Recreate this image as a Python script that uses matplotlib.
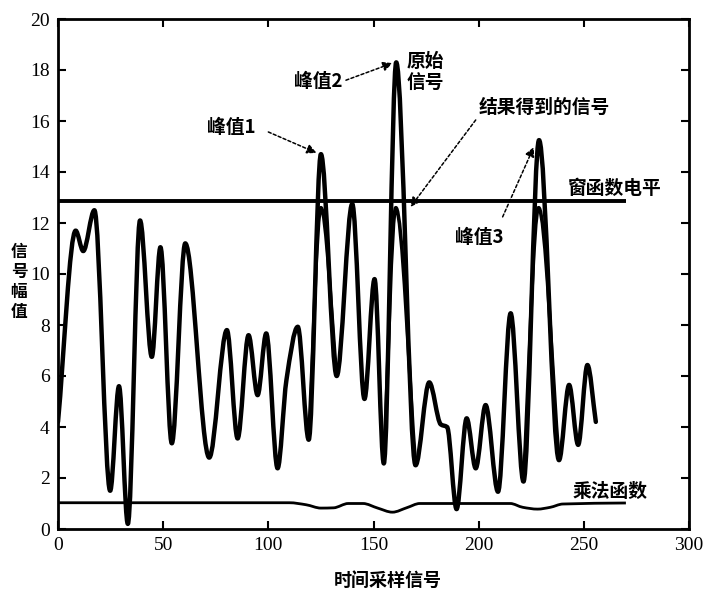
import numpy as np
import matplotlib
matplotlib.use("Agg")
import matplotlib.pyplot as plt
from matplotlib.path import Path
from matplotlib.patches import PathPatch

plt.rcParams['font.family'] = ['Liberation Serif', 'Noto Sans CJK SC']

# ---------------- data ----------------
# original signal: key points (extrema / shoulders)
sig_x = [0, 8.4, 12.0, 17.3, 24.8, 29.0, 33.2, 39.0, 44.6, 48.7, 54.1, 60.5,
         71.9, 80.3, 85.4, 90.6, 94.9, 99.0, 104.4, 108.6, 114.0, 119.2, 125.0,
         132.5, 139.9, 145.7, 150.5, 154.9, 160.8, 170.0, 176.5, 182.0, 185.0,
         189.5, 194.3, 198.6, 203.3, 209.2, 215.2, 221.3, 228.7, 238.2, 243.0,
         247.3, 251.7, 255.7]
sig_y = [4.2, 11.7, 10.9, 12.5, 1.5, 5.6, 0.2, 12.1, 6.75, 11.05, 3.36, 11.2,
         2.8, 7.8, 3.55, 7.6, 5.25, 7.67, 2.38, 5.84, 7.93, 3.5, 14.7,
         6.0, 12.75, 5.1, 9.8, 2.57, 18.3, 2.5, 5.75, 4.1, 4.0,
         0.78, 4.34, 2.38, 4.86, 1.46, 8.46, 1.86, 15.25, 2.7, 5.65,
         3.3, 6.43, 4.2]

# resulting signal where it differs from the original (around the 3 peaks)
res1_x = [119.2, 125.0, 132.5]
res1_y = [3.5, 12.6, 6.0]
res2_x = [154.9, 160.6, 170.0]
res2_y = [2.57, 12.6, 2.5]
res3_x = [221.3, 228.5, 238.2]
res3_y = [1.86, 12.6, 2.7]

# window level
win_x = [0, 270]
win_y = [12.85, 12.85]

# multiplication function
mul_x = [0, 110, 118, 125, 131, 138, 145, 152, 159, 166, 172, 215, 221, 228,
         234, 240, 270]
mul_y = [1.03, 1.03, 0.95, 0.82, 0.83, 1.0, 1.0, 0.82, 0.66, 0.84, 1.0, 1.0,
         0.85, 0.78, 0.85, 0.98, 1.02]

x_ticks = [0, 50, 100, 150, 200, 250, 300]
y_ticks = [0, 2, 4, 6, 8, 10, 12, 14, 16, 18, 20]


def smooth_path(xs, ys):
    """Monotone cubic Hermite curve through key points, as Bezier path."""
    x = np.asarray(xs, float)
    y = np.asarray(ys, float)
    h = np.diff(x)
    d = np.diff(y) / h
    n = len(x)
    m = np.zeros(n)
    m[0] = d[0]
    m[-1] = d[-1]
    for i in range(1, n - 1):
        if d[i - 1] * d[i] <= 0:
            m[i] = 0.0
        else:
            w1 = 2 * h[i] + h[i - 1]
            w2 = h[i] + 2 * h[i - 1]
            m[i] = (w1 + w2) / (w1 / d[i - 1] + w2 / d[i])
    verts = [(x[0], y[0])]
    codes = [Path.MOVETO]
    for i in range(n - 1):
        hh = h[i] / 3.0
        verts += [(x[i] + hh, y[i] + m[i] * hh),
                  (x[i + 1] - hh, y[i + 1] - m[i + 1] * hh),
                  (x[i + 1], y[i + 1])]
        codes += [Path.CURVE4] * 3
    return Path(verts, codes)


fig = plt.figure(figsize=(7.05, 5.92), dpi=100)
ax = fig.add_axes([58 / 705, 63 / 592, (689 - 58) / 705, 510 / 592])

ax.add_patch(PathPatch(smooth_path(sig_x, sig_y), fill=False, lw=3.2,
                       ec='black', joinstyle='round', capstyle='round'))
for rx, ry in [(res1_x, res1_y), (res2_x, res2_y), (res3_x, res3_y)]:
    ax.add_patch(PathPatch(smooth_path(rx, ry), fill=False, lw=2.6,
                           ec='black', joinstyle='round'))
ax.plot(win_x, win_y, color='black', lw=2.8, solid_capstyle='butt')
ax.add_patch(PathPatch(smooth_path(mul_x, mul_y), fill=False, lw=2.0,
                       ec='black'))

ax.set_xlim(0, 300)
ax.set_ylim(0, 20)
ax.set_xticks(x_ticks)
ax.set_yticks(y_ticks)
ax.tick_params(direction='in', length=6, width=1.5, top=True, right=True,
               labelsize=14, pad=6)
for s in ax.spines.values():
    s.set_linewidth(2.0)

cjk = dict(family=['Noto Sans CJK SC', 'Liberation Serif'], fontweight='bold',
           color='black')

fig.text(388 / 705, 1 - 580 / 592, '时间采样信号', ha='center', va='center',
         fontsize=13, **cjk)
fig.text(19 / 705, 1 - 282 / 592, '信\n号\n幅\n值', ha='center', va='center',
         fontsize=12, linespacing=1.15, **cjk)

fs = 13.5
ax.text(82.4, 15.73, '峰值1', ha='center', va='center', fontsize=fs, **cjk)
ax.text(123.8, 17.53, '峰值2', ha='center', va='center', fontsize=fs, **cjk)
ax.text(174.6, 17.9, '原始\n信号', ha='center', va='center', fontsize=fs,
        linespacing=1.15, **cjk)
ax.text(231.4, 16.55, '结果得到的信号', ha='center', va='center', fontsize=fs, **cjk)
ax.text(264.8, 13.37, '窗函数电平', ha='center', va='center', fontsize=fs, **cjk)
ax.text(200.5, 11.45, '峰值3', ha='center', va='center', fontsize=fs, **cjk)
ax.text(262.4, 1.49, '乘法函数', ha='center', va='center', fontsize=fs, **cjk)

arrows = [((100, 15.57), (122.9, 14.75)),
          ((136.9, 17.6), (159.0, 18.27)),
          ((198.6, 16.04), (167.6, 12.63)),
          ((211.4, 12.24), (226.2, 14.98))]
for (x0, y0), (x1, y1) in arrows:
    ax.annotate('', xy=(x1, y1), xytext=(x0, y0),
                arrowprops=dict(arrowstyle='-|>', linestyle=(0, (2, 1.5)),
                                color='black', lw=1.1, mutation_scale=14,
                                shrinkA=0, shrinkB=0))

fig.savefig('out.png', dpi=100)
